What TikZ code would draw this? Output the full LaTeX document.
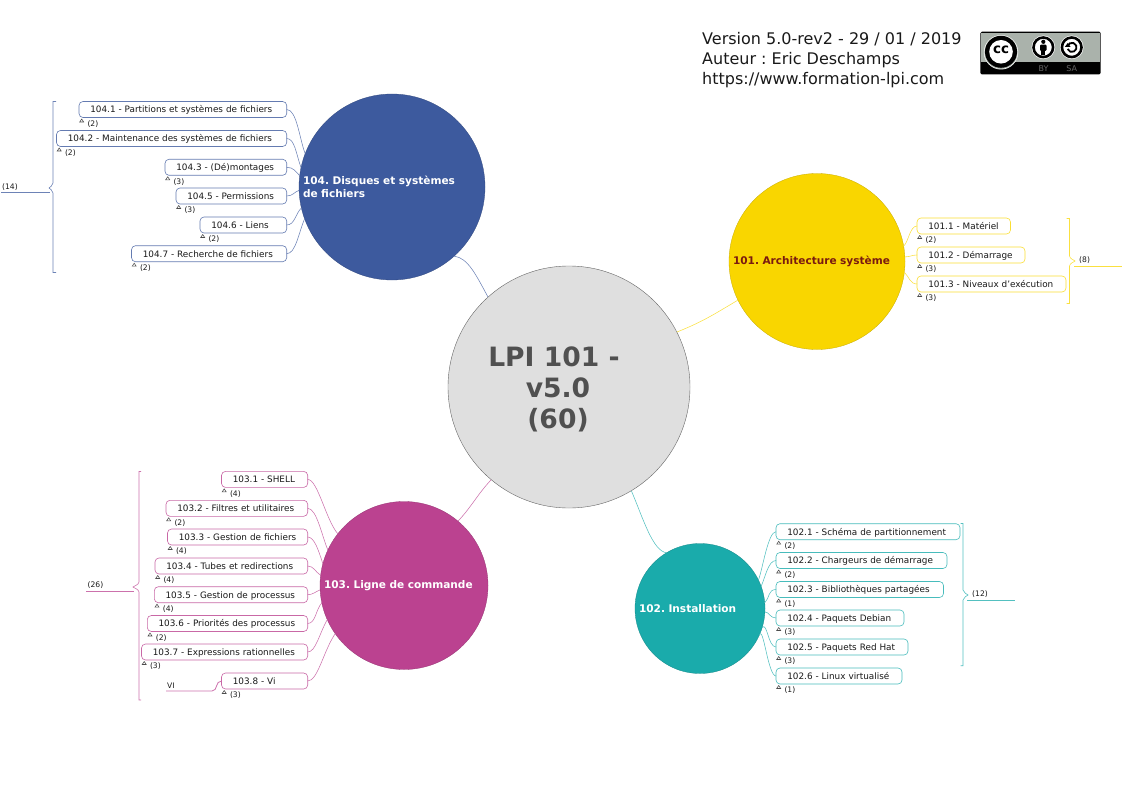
\documentclass[tikz,border=0pt]{standalone}
\usepackage{fontspec}
\setmainfont{DejaVu Sans}
\frenchspacing
\definecolor{cA}{HTML}{F9D600}
\definecolor{cB}{HTML}{1AABAB}
\definecolor{cC}{HTML}{BB4290}
\definecolor{cD}{HTML}{3D5A9E}
\definecolor{cdark}{HTML}{7A1A10}
\definecolor{rootgrey}{HTML}{DFDFDF}
\definecolor{roottext}{HTML}{505050}
\definecolor{ccgrey}{HTML}{AAB2AB}
\tikzset{
  topic/.style={draw=#1!80,line width=0.6pt,fill=white,rounded corners=4pt,anchor=west,inner xsep=11.3pt,inner ysep=0pt,outer sep=0pt,
    minimum height=16pt,align=left,font=\fontsize{8.85}{11}\selectfont,text=black!90,text height=8.6pt,text depth=1.8pt},
  mainc/.style={circle,draw=#1!80!black,fill=#1,line width=0.3pt,inner sep=0pt,outer sep=0pt,align=left,
    font=\bfseries\fontsize{10.55}{12.3}\selectfont,text=white},
  con/.style={draw=#1!75,line width=0.55pt},
  brace/.style={draw=#1!75,line width=0.6pt},
  badge/.style={font=\fontsize{7.6}{8}\selectfont,text=black!90,inner sep=0pt,anchor=west},
  tri/.style={draw=black!70,line width=0.55pt},
  note/.style={font=\fontsize{7.6}{8}\selectfont,text=black!90,inner sep=0pt,anchor=west}
}
\newcommand\topicbox[7]{% name,left,right,cy,colour,text,count
  \pgfmathsetmacro\tbw{#3-#2-22.6}
  \node[topic=#5,text width=\tbw pt] (#1) at (#2,#4) {\mbox{#6}};
  \draw[tri] ($(#1.west)+(0.7,12.5)$) -- ++(4,0) -- ++(-2,-3) -- cycle;
  \node[badge] (#1b) at ($(#1.west)+(8.3,14.4)$) {(#7)};
}
\usetikzlibrary{calc}
\begin{document}
\begin{tikzpicture}[x=1pt,y=-1pt]
\useasboundingbox (0,0) rectangle (1123,794);

% main circles
\node[circle,draw=black!60,fill=rootgrey,line width=0.4pt,minimum size=242pt,inner sep=0pt,outer sep=0pt,
  align=center,text=roottext,font=\bfseries\fontsize{26.6}{31}\selectfont] (root) at (569,387)
  {\rule{0pt}{25pt}\mbox{LPI 101 -\kern30pt}\\\mbox{v5.0\kern22pt}\\\mbox{(60)\kern22pt}};
\node[mainc=cA,minimum size=176pt,text width=168pt,text=cdark] (c101) at (817,261.5) {101. Architecture système};
\node[mainc=cB,minimum size=130pt,text width=122pt] (c102) at (700,608.5) {102. Installation};
\node[mainc=cC,minimum size=168pt,text width=160pt] (c103) at (404,585.5) {103. Ligne de commande};
\node[mainc=cD,minimum size=186pt,text width=178pt] (c104) at (392,187) {104. Disques et systèmes\\de fichiers};

% root connectors
\draw[con=cA] (root.27) .. controls +(25,-10) and +(-25,15) .. (c101.206);
\draw[con=cB] (root.-59) .. controls +(12,28) and +(-14,-2) .. (c102.121);
\draw[con=cC] (root.230) .. controls +(-14,15) and +(14,-15) .. (c103.50);
\draw[con=cD] (root.132) .. controls +(-12,-22) and +(14,2) .. (c104.-48);

% 101
\topicbox{a1}{917}{1010.5}{226}{cA}{101.1 - Matériel}{2}
\topicbox{a2}{917}{1025}{255}{cA}{101.2 - Démarrage}{3}
\topicbox{a3}{917}{1066}{284}{cA}{101.3 - Niveaux d'exécution}{3}
\draw[con=cA] (a1.west) .. controls +(-7,0) and +(5,-5) .. (c101.10);
\draw[con=cA] (a2.west) .. controls +(-5,0) and +(5,0) .. (c101.3);
\draw[con=cA] (a3.west) .. controls +(-7,0) and +(5,5) .. (c101.-7);
\coordinate (ae) at (1122,266.5);
\draw[brace=cA] (1066.5,218.5) -- (1069.5,218.5) -- (1069.5,256) .. controls (1070,259) and (1074,260) .. (1075,261)
  .. controls (1074,262) and (1070,263) .. (1069.5,266) -- (1069.5,303.5) -- (1066.5,303.5);
\draw[con=cA,line width=0.8pt] (1074,266.5) -- (ae);
\node[note] (an) at (1079,260.5) {(8)};

% 102
\topicbox{b1}{776}{960}{531.7}{cB}{102.1 - Schéma de partitionnement}{2}
\topicbox{b2}{776}{947}{560.5}{cB}{102.2 - Chargeurs de démarrage}{2}
\topicbox{b3}{776}{943.5}{589.5}{cB}{102.3 - Bibliothèques partagées}{1}
\topicbox{b4}{776}{904}{618}{cB}{102.4 - Paquets Debian}{3}
\topicbox{b5}{776}{908}{647}{cB}{102.5 - Paquets Red Hat}{3}
\topicbox{b6}{776}{902}{676}{cB}{102.6 - Linux virtualisé}{1}
\draw[con=cB] (b1.west) .. controls +(-8,0) and +(4,-10) .. (c102.26);
\draw[con=cB] (b2.west) .. controls +(-8,0) and +(4,-8) .. (c102.20);
\draw[con=cB] (b3.west) .. controls +(-8,0) and +(5,-5) .. (c102.5);
\draw[con=cB] (b4.west) .. controls +(-6,0) and +(4,0) .. (c102.-3);
\draw[con=cB] (b5.west) .. controls +(-8,0) and +(5,-6) .. (c102.-17);
\draw[con=cB] (b6.west) .. controls +(-8,0) and +(4,-10) .. (c102.-24);
\coordinate (be) at (1015,600);
\draw[brace=cB] (960.5,523.5) -- (963,523.5) -- (963,590) .. controls (963.5,593) and (967,594) .. (968,595)
  .. controls (967,596) and (963.5,597) .. (963,600) -- (963,665.7) -- (960.5,665.7);
\draw[con=cB,line width=0.8pt] (967,600) -- (be);
\node[note] (bn) at (972,594.5) {(12)};

% 103
\topicbox{d1}{221.5}{307.7}{479.4}{cC}{103.1 - SHELL}{4}
\topicbox{d2}{166}{307.7}{508.3}{cC}{103.2 - Filtres et utilitaires}{2}
\topicbox{d3}{167.5}{307.7}{537}{cC}{103.3 - Gestion de fichiers}{4}
\topicbox{d4}{155}{307.7}{566}{cC}{103.4 - Tubes et redirections}{4}
\topicbox{d5}{154.3}{307.7}{594.7}{cC}{103.5 - Gestion de processus}{4}
\topicbox{d6}{147.3}{307.7}{623.5}{cC}{103.6 - Priorités des processus}{2}
\topicbox{d7}{141.5}{307.7}{652}{cC}{103.7 - Expressions rationnelles}{3}
\topicbox{d8}{221.5}{307.7}{681}{cC}{103.8 - Vi}{3}
\draw[con=cC] (d1.east) .. controls +(10,0) and +(-12,-14) .. (c103.142);
\draw[con=cC] (d2.east) .. controls +(9,0) and +(-6,-14) .. (c103.155);
\draw[con=cC] (d3.east) .. controls +(7,0) and +(-4,-12) .. (c103.165);
\draw[con=cC] (d4.east) .. controls +(6,0) and +(-5,-3) .. (c103.173);
\draw[con=cC] (d5.east) .. controls +(5,0) and +(-5,2) .. (c103.183);
\draw[con=cC] (d6.east) .. controls +(8,0) and +(-6,6) .. (c103.192);
\draw[con=cC] (d7.east) .. controls +(8,0) and +(-8,14) .. (c103.204);
\draw[con=cC] (d8.east) .. controls +(10,0) and +(-12,18) .. (c103.215);
\coordinate (de) at (86,591.5);
\coordinate (vie) at (166,691);
\draw[brace=cC] (141,471.5) -- (139,471.5) -- (139,582) .. controls (138.5,585) and (134,586) .. (133,587)
  .. controls (134,588) and (138.5,589) .. (139,592) -- (139,700) -- (141,700);
\draw[con=cC,line width=0.8pt] (de) -- (134,591.5);
\node[note] (dn) at (87.5,585.5) {(26)};
\draw[con=cC,line width=0.8pt] (vie) -- (212,691) .. controls (218,691) and (215,681) .. (d8.west);
\node[note] (vi) at (167,685.5) {VI};

% 104
\topicbox{e1}{79}{286.7}{109.5}{cD}{104.1 - Partitions et systèmes de fichiers}{2}
\topicbox{e2}{56.5}{286.7}{138.5}{cD}{104.2 - Maintenance des systèmes de fichiers}{2}
\topicbox{e3}{165}{286.7}{167.3}{cD}{104.3 - (Dé)montages}{3}
\topicbox{e4}{176}{286.7}{196}{cD}{104.5 - Permissions}{3}
\topicbox{e5}{200}{286.7}{225}{cD}{104.6 - Liens}{2}
\topicbox{e6}{131.5}{286.7}{253.7}{cD}{104.7 - Recherche de fichiers}{2}
\draw[con=cD] (e1.east) .. controls +(10,0) and +(-6,-16) .. (c104.159);
\draw[con=cD] (e2.east) .. controls +(8,0) and +(-5,-14) .. (c104.168);
\draw[con=cD] (e3.east) .. controls +(7,0) and +(-4,-4) .. (c104.173);
\draw[con=cD] (e4.east) .. controls +(6,0) and +(-5,2) .. (c104.182);
\draw[con=cD] (e5.east) .. controls +(8,0) and +(-6,6) .. (c104.193);
\draw[con=cD] (e6.east) .. controls +(9,0) and +(-6,14) .. (c104.200);
\coordinate (ee) at (1,192.5);
\draw[brace=cD] (56,101.5) -- (53,101.5) -- (53,183) .. controls (52.5,186) and (50,187) .. (49,188)
  .. controls (50,189) and (52.5,190) .. (53,193) -- (53,272.5) -- (56,272.5);
\draw[con=cD,line width=0.8pt] (ee) -- (50,192.5);
\node[note] (en) at (2,186.8) {(14)};

% header text
\node[inner sep=0pt,anchor=west,align=left,font=\fontsize{16}{20}\selectfont,text=black!90] (hdr) at (702,60)
  {Version 5.0-rev2 - 29 / 01 / 2019\\Auteur : Eric Deschamps\\https://www.formation-lpi.com};

% CC BY-SA badge
\fill[black,rounded corners=1.5pt] (980.3,31.7) rectangle (1100.7,74.5);
\fill[ccgrey] (981.3,32.8) rectangle (1099.7,61.7);
\fill[white] (1001,52.3) circle (17.2);
\fill[ccgrey] (1001,52.3) circle (16.6);
\fill[black] (1001,51.8) circle (16);
\fill[white] (1001,51.8) circle (11.8);
\node[inner sep=0pt,font=\bfseries\fontsize{13.5}{13.5}\selectfont,text=black] (cclogo) at (1001,50) {cc};
\fill[white] (1043.3,47.3) circle (11.8);
\draw[black,line width=2.6pt] (1043.3,47.3) circle (9.8);
\fill[black] (1043.3,41.8) circle (2.1);
\fill[black,rounded corners=1pt] (1040,44.7) rectangle (1046.6,50.8);
\fill[black] (1041.4,50) rectangle (1045.2,55.5);
\fill[white] (1071.7,47.3) circle (11.8);
\draw[black,line width=2.6pt] (1071.7,47.3) circle (9.8);
\draw[black,line width=1.8pt] (1067.6,45.8) arc[start angle=-160,end angle=160,radius=4.6];
\fill[black] (1064.8,47) -- (1070.6,47) -- (1067.7,43) -- cycle;
\node[inner sep=0pt,font=\fontsize{8}{8}\selectfont,text=black!60] (ccby) at (1043.5,68.2) {BY};
\node[inner sep=0pt,font=\fontsize{8}{8}\selectfont,text=black!60] (ccsa) at (1071.7,68.2) {SA};
\end{tikzpicture}
\end{document}
